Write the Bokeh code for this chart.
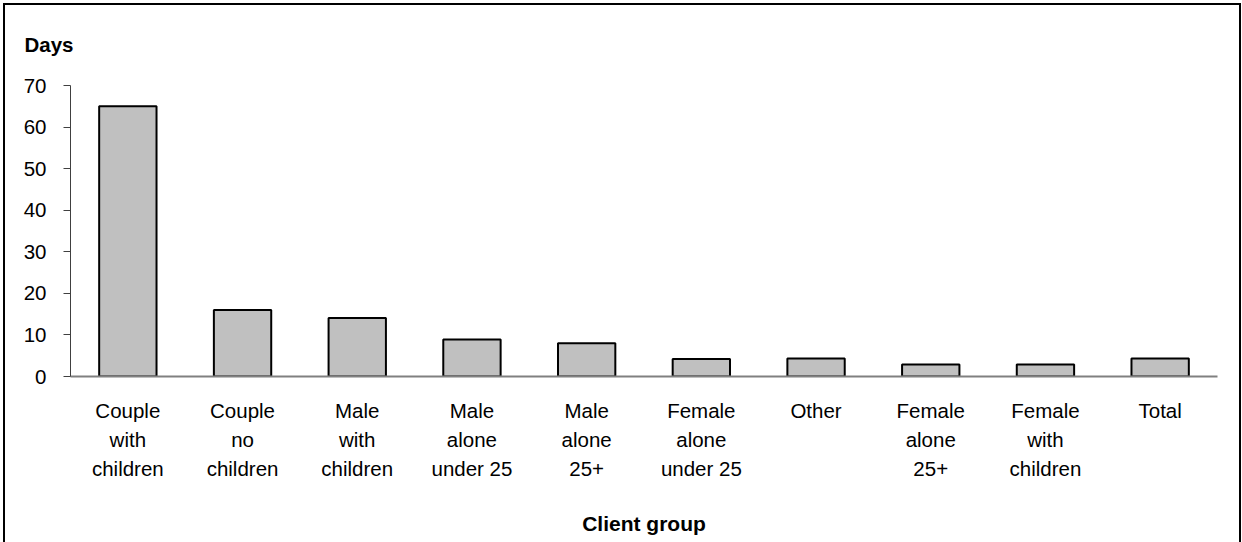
from bokeh.plotting import figure
from bokeh.models import FactorRange, Range1d, ColumnDataSource
from bokeh.embed import file_html
from bokeh.resources import INLINE

categories = ["Couple\nwith\nchildren", "Couple\nno\nchildren", "Male\nwith\nchildren",
              "Male\nalone\nunder 25", "Male\nalone\n25+", "Female\nalone\nunder 25",
              "Other", "Female\nalone\n25+", "Female\nwith\nchildren", "Total"]
days = [65, 16, 14.05, 8.9, 8.0, 4.2, 4.3, 2.9, 2.9, 4.3]
y_ticks = [0, 10, 20, 30, 40, 50, 60, 70]

FONT = "Liberation Sans"

src = ColumnDataSource(dict(cat=categories, days=days))

p = figure(width=1238, height=539, output_backend="svg", toolbar_location=None,
           x_range=FactorRange(*categories, range_padding=0), y_range=Range1d(0, 70),
           min_border_left=65, min_border_right=26, min_border_top=80, min_border_bottom=168)
p.styles = {"border-top": "2px solid black", "border-left": "2px solid black",
            "border-right": "2px solid black", "margin-left": "3px", "margin-top": "3px"}

p.vbar(x="cat", top="days", width=0.5, source=src, fill_color="#C0C0C0",
       line_color="black", line_width=2)

p.xgrid.visible = False
p.ygrid.visible = False
p.outline_line_color = None
p.background_fill_color = "white"
p.border_fill_color = "white"

# y axis
ya = p.yaxis[0]
ya.ticker = y_ticks
ya.axis_line_color = "#404040"
ya.major_tick_line_color = "#404040"
ya.major_tick_out = 7
ya.major_tick_in = 0
ya.minor_tick_line_color = None
ya.major_label_text_font = FONT
ya.major_label_text_font_size = "20.5px"
ya.major_label_text_color = "black"
ya.major_label_standoff = 17

# x axis
xa = p.xaxis[0]
xa.axis_line_color = "#808080"
xa.axis_line_width = 2
xa.major_tick_line_color = None
xa.minor_tick_line_color = None
xa.major_label_text_font = FONT
xa.major_label_text_font_size = "20.5px"
xa.major_label_text_color = "black"
xa.major_label_text_line_height = 1.27
xa.major_label_standoff = 16
xa.axis_label = "Client group"
xa.axis_label_text_font = FONT
xa.axis_label_text_font_size = "21px"
xa.axis_label_text_font_style = "bold"
xa.axis_label_text_color = "black"
xa.axis_label_standoff = 29

# "Days" title
p.title.text = "Days"
p.title.text_font = FONT
p.title.text_font_size = "20.5px"
p.title.text_font_style = "bold"
p.title.text_color = "black"
p.title.align = "left"
p.title.vertical_align = "top"
p.title.offset = -46
p.title.standoff = 55

open("out.html", "w").write(file_html(p, INLINE))
